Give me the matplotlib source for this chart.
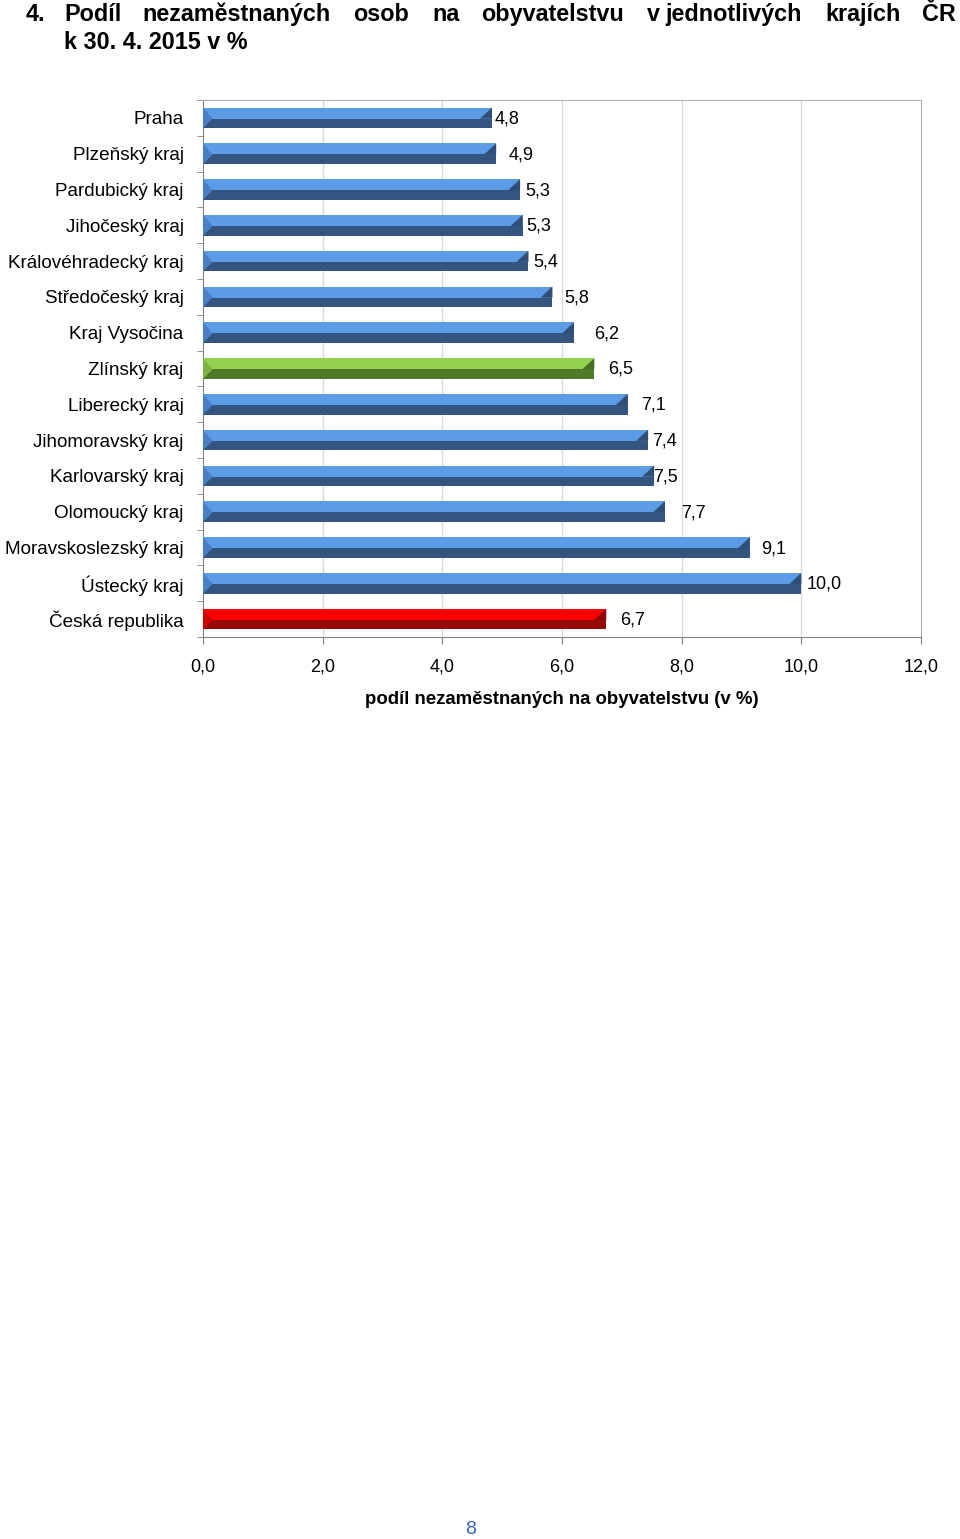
import matplotlib
matplotlib.use("Agg")
import matplotlib.pyplot as plt
from matplotlib.patches import Polygon, Rectangle

plt.rcParams['font.family'] = ['Liberation Sans', 'DejaVu Sans']

regions = ['Praha', 'Plzeňský kraj', 'Pardubický kraj', 'Jihočeský kraj',
           'Královéhradecký kraj', 'Středočeský kraj', 'Kraj Vysočina',
           'Zlínský kraj', 'Liberecký kraj', 'Jihomoravský kraj',
           'Karlovarský kraj', 'Olomoucký kraj', 'Moravskoslezský kraj',
           'Ústecký kraj', 'Česká republika']
share = [4.83, 4.90, 5.30, 5.34, 5.44, 5.84, 6.20, 6.54, 7.10, 7.44,
         7.54, 7.72, 9.14, 10.00, 6.74]
xticks = [0, 2, 4, 6, 8, 10, 12]

# label nudges (pixels), roughly as Excel placed them
label_dx = [3, 12, 5, 4, 5, 12, 20, 14, 13, 4, -1, 16, 11, 5, 14]

blue = ('#5c9be6', '#34557f', '#4a7fc4', '#2f4e78')
green = ('#92d050', '#4f7a28', '#7cb342', '#46701f')
red = ('#ff0000', '#960a0a', '#d00000', '#8a0808')
colors = {'Zlínský kraj': green, 'Česká republika': red}

W, H = 960, 1539
fig = plt.figure(figsize=(W / 100, H / 100), dpi=100)
ax = fig.add_axes([203 / W, 1 - 637 / H, 718 / W, 537 / H])

n = len(regions)
ax.set_xlim(0, 12)
ax.set_ylim(n - 0.5, -0.5)

h = 0.58
d = 0.2
for i, (name, v) in enumerate(zip(regions, share)):
    light, dark, left, corner = colors.get(name, blue)
    top, mid, bot = i - h / 2, i + 0.02, i + h / 2
    ax.add_patch(Rectangle((0, top), v, mid - top, fc=light, ec='none', zorder=3))
    ax.add_patch(Rectangle((0, mid), v, bot - mid, fc=dark, ec='none', zorder=3))
    ax.add_patch(Polygon([(0, top), (d * 0.8, mid), (0, bot)], closed=True,
                         fc=left, ec='none', zorder=4))
    ax.add_patch(Polygon([(v - d, mid), (v, top), (v, mid)], closed=True,
                         fc=corner, ec='none', zorder=4))
    ax.annotate(f'{v:.1f}'.replace('.', ','), (v, i), xytext=(label_dx[i], -1),
                textcoords='offset pixels', ha='left', va='center',
                fontsize=13, color='black', zorder=5)

ax.set_xticks(xticks)
ax.set_xticklabels([f'{t:.1f}'.replace('.', ',') for t in xticks], fontsize=13)
ax.set_yticks(range(n))
ax.set_yticklabels(regions, fontsize=13.6)
ax.set_yticks([k - 0.5 for k in range(n + 1)], minor=True)
ax.tick_params(axis='y', which='major', length=0, pad=14)
ax.tick_params(axis='y', which='minor', length=4, color='#808080', direction='out')
ax.tick_params(axis='x', length=5, color='#808080', direction='out', pad=10.5)

for t in xticks[1:-1]:
    ax.axvline(t, color='#d9d9d9', lw=1, zorder=1)

for s in ('left', 'bottom'):
    ax.spines[s].set_color('#808080')
for s in ('top', 'right'):
    ax.spines[s].set_color('#b0b0b0')

ax.set_xlabel('podíl nezaměstnaných na obyvatelstvu (v %)', fontsize=13.4,
              fontweight='bold', va='center')
ax.xaxis.set_label_coords(0.5, -0.117)

# justified title, first line
words = ['4.', 'Podíl', 'nezaměstnaných', 'osob', 'na', 'obyvatelstvu',
         'v', 'jednotlivých', 'krajích', 'ČR']
word_x = [26, 64, 142, 353, 432, 481, 647, 665, 825, 922]
for w, x in zip(words, word_x):
    fig.text(x / W, 1 - 21 / H, w, fontsize=16.8, fontweight='bold',
             va='baseline', ha='left')
fig.text(64 / W, 1 - 49 / H, 'k 30. 4. 2015 v %', fontsize=16.8,
         fontweight='bold', va='baseline', ha='left')

fig.text(471 / W, 1 - 1529 / H, '8', fontsize=14, color='#3a62c0',
         ha='center', va='center')

fig.savefig('out.png', dpi=100)
